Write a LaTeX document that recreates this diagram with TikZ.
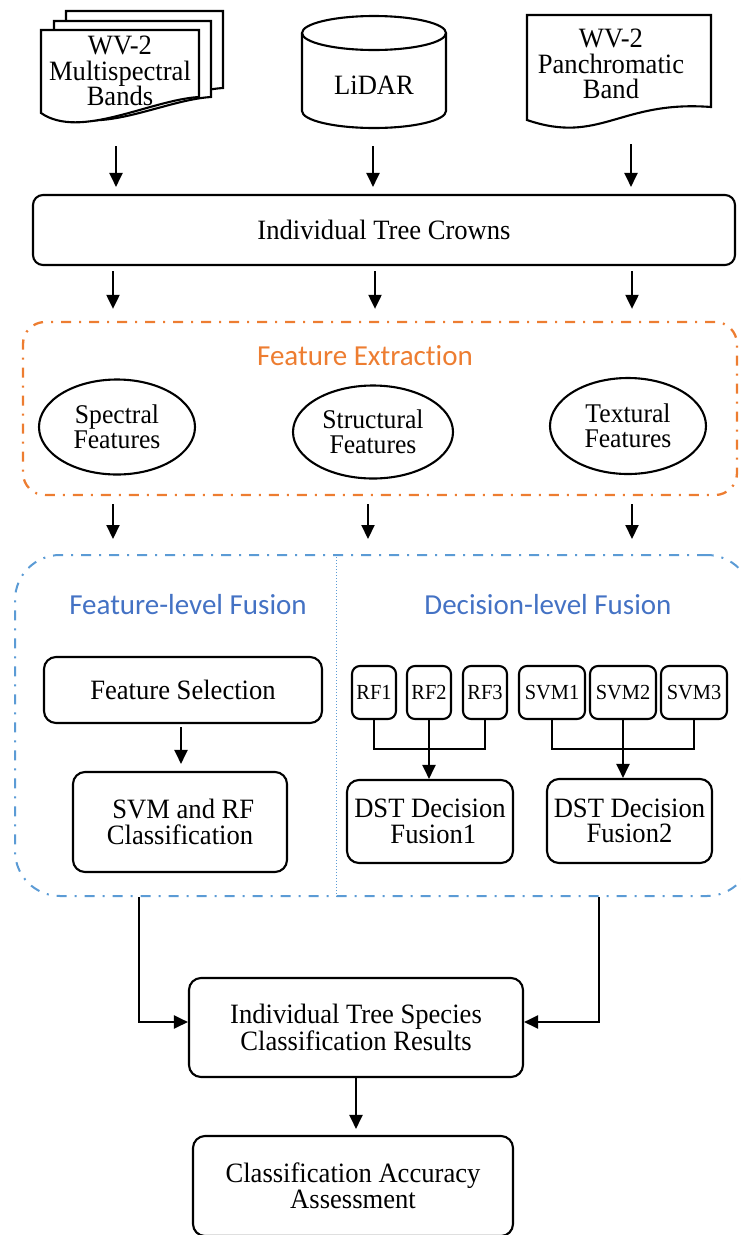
\documentclass[tikz,border=0pt]{standalone}
\usepackage{fontspec}
\setmainfont[FakeStretch=0.95]{Liberation Serif}
\newfontfamily\calibri[Ligatures={NoCommon,NoRequired,NoContextual}]{Carlito}
\usetikzlibrary{arrows.meta,shapes.geometric,calc}
\definecolor{feorange}{RGB}{237,125,49}
\definecolor{fuseblue}{RGB}{68,114,196}
\definecolor{fuseline}{RGB}{91,155,213}

\begin{document}
\begin{tikzpicture}[x=1pt,y=-1pt,
  every node/.style={font=\fontsize{28}{25.5}\selectfont, align=center, inner sep=0pt},
  box/.style={draw, line width=2.1pt, rounded corners=12pt, fill=white},
  smallbox/.style={box, rounded corners=8pt, minimum height=53pt, font=\fontsize{21.5}{22}\selectfont},
  feat/.style={draw, ellipse, line width=2.1pt, font=\fontsize{27}{25.5}\selectfont},
  link/.style={line width=2.1pt},
  arr/.style={line width=2.1pt, -{Triangle[length=14pt,width=13pt]}},
  doc/.style={draw, line width=2.1pt, fill=white},
  dashdot frame/.style={line width=2.3pt, dash pattern=on 10pt off 8pt on 2pt off 8pt},
  heading/.style={font=\calibri\fontsize{29}{30}\selectfont}]

\useasboundingbox (0,0) rectangle (741,1235);

% ---- data sources ----
% stacked multispectral band sheets
\draw[doc] (66,11) -- (223,11) -- (223,88) .. controls (174,91) and (104,131) .. (66,100) -- cycle;
\draw[doc] (54,21) -- (211,21) -- (211,97) .. controls (162,100) and (92,140) .. (54,108) -- cycle;
\draw[doc] (41,30) -- (199,30) -- (199,97) .. controls (150,100) and (80,140) .. (41,113) -- cycle;
\node (ms) at (120,71) {WV-2\\Multispectral\\Bands};

% LiDAR cylinder
\draw[link, fill=white] (302,33) -- (302,111)
  arc[start angle=180, end angle=360, x radius=72pt, y radius=17pt] -- (446,33);
\draw[link] (374,33) ellipse[x radius=72pt, y radius=17pt];
\node (lidar) at (374,85) {LiDAR};

% panchromatic band sheet
\draw[doc] (527,15) -- (711,15) -- (711,107) .. controls (620,100) and (600,145) .. (527,120) -- cycle;
\node (pan) at (611,64) {WV-2\\Panchromatic\\Band};

% ---- crowns ----
\node[box, rounded corners=10pt, minimum width=702pt, minimum height=70pt] (itc) at (384,230) {Individual Tree Crowns};

\coordinate (ms-tail) at (116,146);
\coordinate (lidar-tail) at (373,146);
\coordinate (pan-tail) at (631,144);
\foreach \s in {ms-tail,lidar-tail,pan-tail}
  \draw[arr, shorten >=7pt] (\s) -- (\s |- itc.north);

% ---- feature extraction ----
\node[draw=feorange, dashdot frame, rounded corners=22pt, minimum width=714pt, minimum height=173pt] (fe) at (380,408.5) {};
\node[heading, text=feorange] (fetitle) at (365,356) {Feature Extraction};

\node[feat, minimum width=156pt, minimum height=95pt] (spec) at (117,427) {Spectral\\Features};
\node[feat, minimum width=160pt, minimum height=93pt] (struct) at (373,432) {Structural\\Features};
\node[feat, minimum width=156pt, minimum height=96pt] (text) at (628,426) {Textural\\Features};

\coordinate (a1) at (113,0);
\coordinate (a2) at (375,0);
\coordinate (a3) at (632,0);
\foreach \c in {a1,a2,a3}
  \draw[arr, shorten <=5pt, shorten >=12pt] (itc.south -| \c) -- (fe.north -| \c);

% ---- fusion ----
\node[draw=fuseline, dashdot frame, line width=2pt, rounded corners=45pt, minimum width=737pt, minimum height=341pt] (fusion) at (383.5,725.5) {};
\coordinate (split) at (336,0);
\draw[fuseline, line width=1pt, dash pattern=on 1pt off 2pt] (fusion.north -| split) -- (fusion.south -| split);

\coordinate (b1) at (113,0);
\coordinate (b2) at (368,0);
\coordinate (b3) at (632,0);
\foreach \c in {b1,b2,b3}
  \draw[arr, shorten <=8pt, shorten >=15pt] (fe.south -| \c) -- (fusion.north -| \c);

\node[heading, text=fuseblue] (fltitle) at (188,605) {Feature-level Fusion};
\node[heading, text=fuseblue] (dltitle) at (548,605) {Decision-level Fusion};

% feature-level branch
\node[box, minimum width=278pt, minimum height=66pt] (fs) at (183,690) {Feature Selection};
\node[box, minimum width=214pt, minimum height=100pt] (svmrf) at (180,822) {\ SVM and RF\\Classification};
\coordinate (fsx) at (181,0);
\draw[arr, shorten <=3pt, shorten >=7pt] (fs.south -| fsx) -- (svmrf.north -| fsx);

% decision-level branch
\node[smallbox, minimum width=44pt] (rf1) at (374,692.5) {RF1};
\node[smallbox, minimum width=44pt] (rf2) at (429,692.5) {RF2};
\node[smallbox, minimum width=44pt] (rf3) at (485,692.5) {RF3};
\node[smallbox, minimum width=66pt] (svm1) at (552,692.5) {SVM1};
\node[smallbox, minimum width=66pt] (svm2) at (623,692.5) {SVM2};
\node[smallbox, minimum width=66pt] (svm3) at (694,692.5) {SVM3};

\node[box, minimum width=166pt, minimum height=83pt] (dst1) at (430,821.5) {DST Decision\\\ Fusion1};
\node[box, minimum width=165pt, minimum height=84pt] (dst2) at (629.5,821) {DST Decision\\Fusion2};

\coordinate (rfbar) at (429,749);
\coordinate (svmbar) at (623,749);
\draw[link] (rf1.south) |- (rfbar) -| (rf3.south);
\draw[link] (svm1.south) |- (svmbar) -| (svm3.south);
\draw[arr] (rf2.south) -- (rf2.south |- dst1.north);
\draw[arr] (svm2.south) -- (svm2.south |- dst2.north);

% ---- results ----
\node[box, minimum width=334pt, minimum height=99pt] (results) at (356,1027.5) {Individual Tree Species\\Classification Results};
\node[box, minimum width=320pt, minimum height=100pt] (accuracy) at (353,1186) {Classification Accuracy\\Assessment};

\coordinate (ff-exit) at (139,0);
\coordinate (df-exit) at (599,0);
\draw[arr] (fusion.south -| ff-exit) |- ([yshift=5.5pt]results.west);
\draw[arr] (fusion.south -| df-exit) |- ([yshift=5.5pt]results.east);
\draw[arr, shorten >=6pt] (results.south) -- (results.south |- accuracy.north);
\end{tikzpicture}
\end{document}
